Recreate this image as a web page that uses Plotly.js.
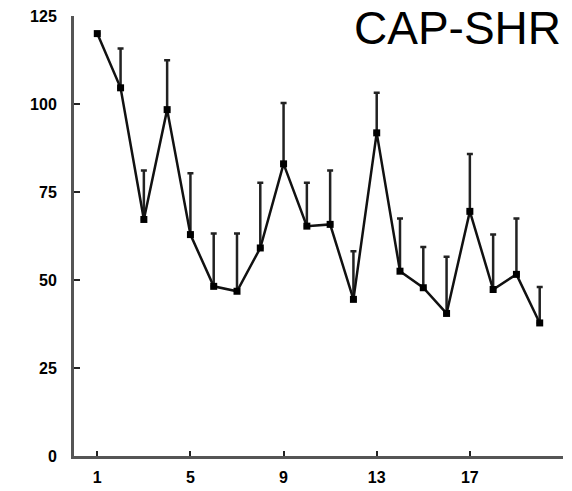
<!DOCTYPE html>
<html>
<head>
<meta charset="utf-8">
<script src="https://cdn.plot.ly/plotly-3.0.1.min.js"></script>
<style>html,body{margin:0;padding:0;background:#fff;}#chart{width:572px;height:491px;}</style>
</head>
<body>
<div id="chart"></div>
<script>
var days = [1,2,3,4,5,6,7,8,9,10,11,12,13,14,15,16,17,18,19,20];
var means = [120,104.6,67.2,98.4,62.9,48.2,46.8,59.1,83,65.3,65.8,44.5,91.8,52.5,47.8,40.5,69.5,47.3,51.6,37.8];
var upperEnds = [120,115.8,81.1,112.4,80.3,63.2,63.2,77.6,100.3,77.6,81.1,58.2,103.2,67.5,59.4,56.6,85.8,62.9,67.5,48];
var xTicks = [1,5,9,13,17];
var yTicks = [0,25,50,75,100,125];
var titleText = "CAP-SHR";

var errPlus = means.map(function(m,i){ return Math.max(0, upperEnds[i]-m); });
var errMinus = means.map(function(){ return 0; });

var trace = {
  x: days, y: means, type: 'scatter', mode: 'lines+markers',
  line: {color:'#111', width:2.5},
  marker: {color:'#000', size:7, symbol:'square'},
  error_y: {type:'data', symmetric:false, array: errPlus, arrayminus: errMinus,
            color:'#222', thickness:2.5, width:3},
  showlegend:false, hoverinfo:'none'
};

var tickFont = {family:'Liberation Sans, Arial, sans-serif', size:16, color:'#000', weight:'bold'};
var layout = {
  width:572, height:491,
  margin:{l:74, r:9, t:16, b:34.5},
  paper_bgcolor:'#fff', plot_bgcolor:'#fff',
  xaxis:{range:[0,21], tickvals:xTicks, ticktext:xTicks.map(String), showgrid:false, zeroline:false,
         showline:true, linecolor:'#555', linewidth:3, ticks:'inside', ticklen:5, tickwidth:2, tickcolor:'#222',
         tickfont:tickFont, ticklabelstandoff:5, fixedrange:true},
  yaxis:{range:[0,125], tickvals:yTicks, ticktext:yTicks.map(String), showgrid:false, zeroline:false,
         showline:true, linecolor:'#555', linewidth:3, ticks:'inside', ticklen:6, tickwidth:2, tickcolor:'#222',
         tickfont:tickFont, ticklabelstandoff:11, fixedrange:true},
  annotations:[{text:titleText, xref:'paper', yref:'paper', x:1, y:0.972, xanchor:'right', yanchor:'middle',
    showarrow:false, font:{family:'Liberation Sans, Arial, sans-serif', size:46, color:'#000'}}]
};
Plotly.newPlot('chart', [trace], layout, {staticPlot:true, displayModeBar:false});
</script>
</body>
</html>
